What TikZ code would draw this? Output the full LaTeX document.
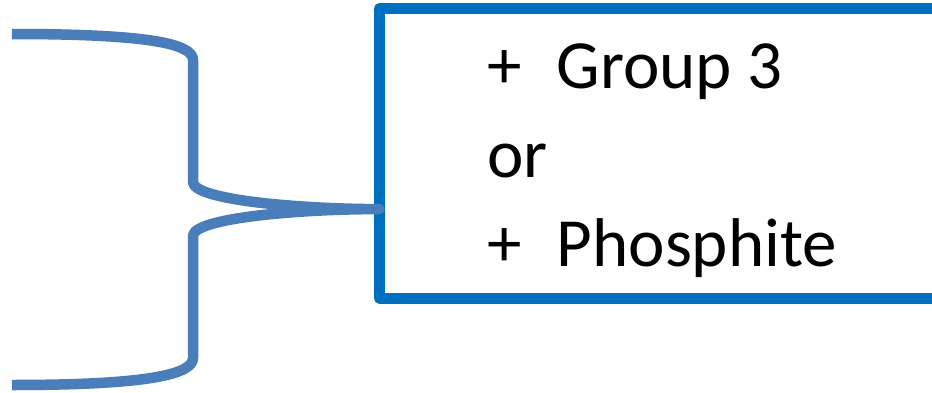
\documentclass[tikz,border=0pt]{standalone}
\usepackage{fontspec}
\setmainfont{Carlito}
\usetikzlibrary{calc}
\definecolor{braceblue}{RGB}{74,126,187}
\definecolor{boxblue}{RGB}{0,112,192}
\tikzset{x=1pt, y=1pt,
  choice/.style={draw=boxblue, line width=11pt, line join=round, outer sep=0pt,
    minimum width=640pt, minimum height=289.5pt, anchor=north west},
  choicetext/.style={anchor=base west, inner sep=0pt, font=\fontsize{69}{89}\selectfont},
  brace/.style={draw=braceblue, line width=10.5pt, line join=round}}

\begin{document}
\begin{tikzpicture}
\useasboundingbox (0,0) rectangle (932,392);
\node[choicetext] (group) at (487,304) {+~~\hspace{4pt}Group 3};
\node[choicetext] (or) at (487,215) {or};
\node[choicetext] (phos) at (487,126) {+~~\hspace{4pt}Phosphite};
\node[choice] (box) at (379.5,383.5) {};

\coordinate (tip) at ($(box.south west)!0.307!(box.north west)$);
\coordinate (top) at (12,358);
\coordinate (bot) at (12,7);

\path[brace] (top) .. controls (150,358) and (193,348) .. (193,332)
  -- (193,210) .. controls (193,192) and (300,183) .. (tip)
  .. controls (300,183) and (193,174) .. (193,156)
  -- (193,34) .. controls (193,18) and (150,7) .. (bot);
\end{tikzpicture}
\end{document}
